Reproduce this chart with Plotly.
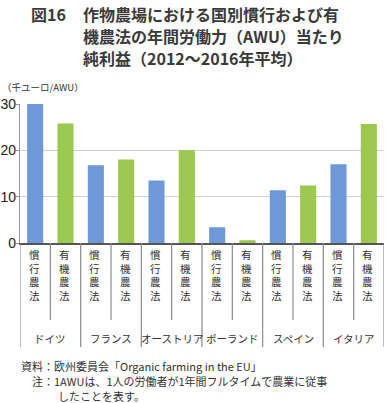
import plotly.graph_objects as go

countries = ["ドイツ", "フランス", "オーストリア", "ポーランド", "スペイン", "イタリア"]
methods = ["慣行農法", "有機農法"]
conventional = [30.0, 16.8, 13.5, 3.4, 11.4, 17.0]
organic = [25.8, 18.0, 20.0, 0.6, 12.4, 25.7]
y_ticks = [0, 10, 20, 30]

BLUE = "#6E98D8"
GREEN = "#9CC850"
FONT = "Noto Sans CJK JP"
W, H = 389, 403
L, R, T, B = 20, 5, 104, 160

keys, ys, colors = [], [], []
for c, cv, ov in zip(countries, conventional, organic):
    keys += [c + "|" + methods[0], c + "|" + methods[1]]
    ys += [cv, ov]
    colors += [BLUE, GREEN]

fig = go.Figure(go.Bar(
    x=keys, y=ys, marker=dict(color=colors, line=dict(width=0)),
    hoverinfo="skip"))

fig.update_layout(
    width=W, height=H,
    margin=dict(l=L, r=R, t=T, b=B, autoexpand=False),
    paper_bgcolor="white", plot_bgcolor="white",
    bargap=0.47, showlegend=False,
    font=dict(family=FONT, color="#333333"),
)
fig.update_xaxes(
    type="category", showticklabels=False, ticks="", automargin=False,
    showline=True, linecolor="#555555", linewidth=1.5,
    range=[-0.5, len(keys) - 0.5],
)
fig.update_yaxes(
    range=[0, 30], tickvals=y_ticks, ticktext=[str(v) for v in y_ticks],
    showgrid=True, gridcolor="#d0d0d0", gridwidth=1, automargin=False,
    showline=True, linecolor="#999999", linewidth=1.2,
    ticks="outside", ticklen=3, tickcolor="#999999",
    ticklabelstandoff=-3,
    tickfont=dict(size=14, family="Liberation Sans", color="#222222"),
    zeroline=False,
)

PH = H - T - B

def ypaper(py):
    return (H - B - py) / PH

# category table: vertical labels and dividers
for i, k in enumerate(keys):
    m = k.split("|")[1]
    fig.add_annotation(text="<br>".join(m), x=k, xref="x", yref="paper",
                       y=ypaper(245), xanchor="center", yanchor="top",
                       showarrow=False, xshift=-1,
                       font=dict(size=10.5, family=FONT, color="#333333"))
for j, c in enumerate(countries):
    fig.add_annotation(text=c, x=2 * j + 0.5, xref="x", yref="paper",
                       y=ypaper(338), xanchor="center", yanchor="middle",
                       showarrow=False,
                       font=dict(size=10.5, family=FONT, color="#333333"))
for b in range(len(keys) + 1):
    outer = b % 2 == 0
    fig.add_shape(type="line", xref="x", yref="paper",
                  x0=b - 0.5, x1=b - 0.5, y0=ypaper(243),
                  y1=ypaper(347 if outer else 320),
                  line=dict(color="#8c8c8c", width=1.2))

def add_text(text, px, py, size, color="#333333"):
    pw = W - L - R
    xp = (px - L) / pw
    fig.add_annotation(text=text, xref="paper", yref="paper", x=xp, y=ypaper(py),
                       xanchor="left", yanchor="middle", showarrow=False,
                       font=dict(size=size, family=FONT, color=color))

add_text("<b>図16</b>", 29, 14, 16, color="#3a3a3a")
add_text("<b>作物農場における国別慣行および有</b>", 81, 14, 16, color="#3a3a3a")
add_text("<b>機農法の年間労働力（AWU）当たり</b>", 81, 36, 16, color="#3a3a3a")
add_text("<b>純利益（2012～2016年平均）</b>", 81, 58, 16, color="#3a3a3a")
add_text("（千ユーロ/AWU）", 0, 87, 9.5)
add_text("資料：欧州委員会「Organic farming in the EU」", 19, 366, 11)
add_text("注：1AWUは、1人の労働者が1年間フルタイムで農業に従事", 30, 381, 11)
add_text("したことを表す。", 56, 396, 11)

fig.write_html("out.html", config={"displayModeBar": False},
               post_script="document.body.style.margin='0';document.body.style.overflow='hidden';")
